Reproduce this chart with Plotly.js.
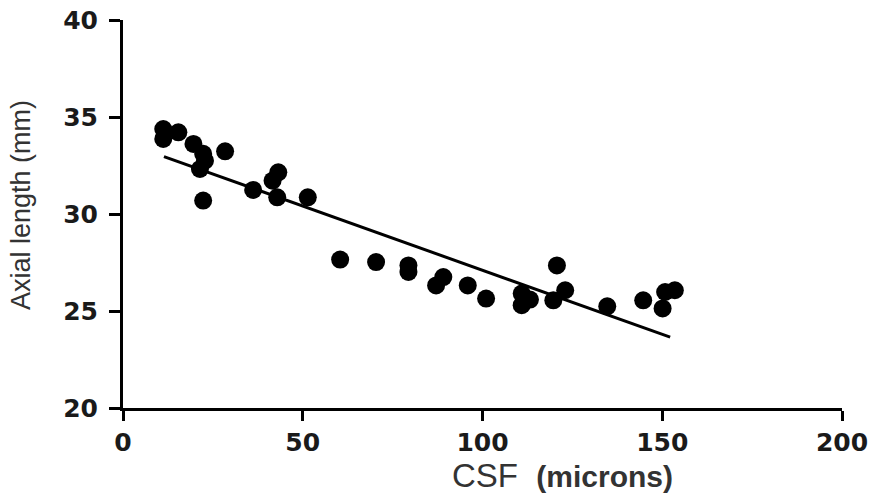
<!DOCTYPE html>
<html>
<head>
<meta charset="utf-8">
<script src="https://cdn.plot.ly/plotly-3.0.1.min.js"></script>
<style>html,body{margin:0;padding:0;background:#fff;}#chart{width:874px;height:497px;}</style>
</head>
<body>
<div id="chart"></div>
<script>
// Scatter data
const csf = [11.2, 11.2, 15.4, 19.6, 22.3, 22.8, 21.4, 28.4, 22.3, 36.2, 41.6, 43.2, 42.9, 51.4,
             60.4, 70.4, 79.4, 79.4, 89.1, 87.1, 95.9, 101.0, 110.9, 110.9, 113.2, 120.7, 119.7, 123.0,
             134.7, 144.7, 150.1, 150.8, 153.5];
const axialLength = [34.38, 33.87, 34.21, 33.61, 33.10, 32.75, 32.32, 33.23, 30.69, 31.24, 31.72, 32.15, 30.86, 30.86,
                     27.65, 27.52, 27.35, 27.01, 26.75, 26.32, 26.32, 25.64, 25.90, 25.30, 25.59, 27.35, 25.55, 26.07,
                     25.24, 25.55, 25.13, 25.98, 26.07];
// Fitted regression line endpoints
const fitX = [11.4, 152.2];
const fitY = [32.96, 23.65];
const xTicks = [0, 50, 100, 150, 200];
const yTicks = [20, 25, 30, 35, 40];

const tickFont = {family: 'DejaVu Sans, sans-serif', size: 25, color: '#1a1a1a', weight: 'bold'};

const traces = [
  {x: csf, y: axialLength, type: 'scatter', mode: 'markers',
   marker: {color: '#000', size: 18, symbol: 'circle'}, cliponaxis: false, hoverinfo: 'skip'},
  {x: fitX, y: fitY, type: 'scatter', mode: 'lines',
   line: {color: '#000', width: 3}, hoverinfo: 'skip'}
];

const layout = {
  width: 874, height: 497,
  margin: {l: 123, r: 32, t: 20, b: 89},
  paper_bgcolor: '#fff', plot_bgcolor: '#fff',
  showlegend: false,
  xaxis: {
    range: [0, 200], tickvals: xTicks, ticktext: xTicks.map(String),
    showgrid: false, zeroline: false, showline: true, linecolor: '#000', linewidth: 3,
    ticks: 'outside', ticklen: 10, tickwidth: 3, tickcolor: '#000',
    tickfont: tickFont, ticklabelstandoff: 0
  },
  yaxis: {
    range: [20, 40], tickvals: yTicks, ticktext: yTicks.map(String),
    showgrid: false, zeroline: false, showline: true, linecolor: '#000', linewidth: 3,
    ticks: 'outside', ticklen: 11, tickwidth: 3, tickcolor: '#000',
    tickfont: tickFont, ticklabelstandoff: 6
  },
  annotations: [
    {xref: 'paper', yref: 'paper', x: -0.142, y: 0.523, xanchor: 'center', yanchor: 'middle', showarrow: false,
     textangle: -90, text: 'Axial length (mm)',
     font: {family: 'Liberation Sans, Arial, sans-serif', size: 27, color: '#333'}},
    {xref: 'paper', yref: 'paper', x: 0.611, y: -0.174, xanchor: 'center', yanchor: 'middle', showarrow: false,
     text: 'CSF  <b><span style="font-size:30px">(microns)</span></b>',
     font: {family: 'Liberation Sans, Arial, sans-serif', size: 33, color: '#333'}}
  ]
};

Plotly.newPlot('chart', traces, layout, {displayModeBar: false, staticPlot: true});
</script>
</body>
</html>
